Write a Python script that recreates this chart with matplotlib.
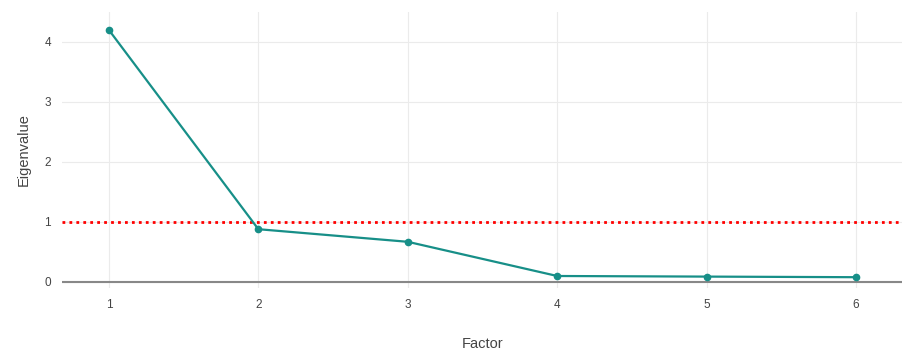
import matplotlib
matplotlib.use('Agg')
import matplotlib.pyplot as plt

plt.rcParams['font.family'] = ['Liberation Sans', 'DejaVu Sans']

# dados do scree plot
factor = [1, 2, 3, 4, 5, 6]
eigenvalue = [4.2, 0.88, 0.67, 0.10, 0.09, 0.08]
cutoff = 1

fig = plt.figure(figsize=(9.03, 3.51), dpi=100)
ax = fig.add_axes([62/903, 63/351, 1 - 62/903, (288-12)/351])

ax.axhline(0, color='#888888', lw=1.5, zorder=1)
ax.axhline(cutoff, color='red', ls=(0, (1, 1.5)), lw=2, zorder=2)
ax.plot(factor, eigenvalue, color='#178f88', lw=1.6, marker='o', ms=4.5, zorder=3)

ax.set_xlim(0.686, 6.314)
ax.set_ylim(-0.1, 4.5)
ax.set_xticks(factor)
ax.set_yticks([0, 1, 2, 3, 4])
ax.grid(True, color='#ebebeb', lw=0.8)
ax.set_axisbelow(True)
for s in ax.spines.values():
    s.set_visible(False)
ax.tick_params(length=0, labelsize=8.5, colors='#444444', pad=8)
ax.set_xlabel('Factor', fontsize=10.5, color='#444444', labelpad=19)
ax.set_ylabel('Eigenvalue', fontsize=10.5, color='#444444', labelpad=10)

fig.savefig('out.png', dpi=100)
